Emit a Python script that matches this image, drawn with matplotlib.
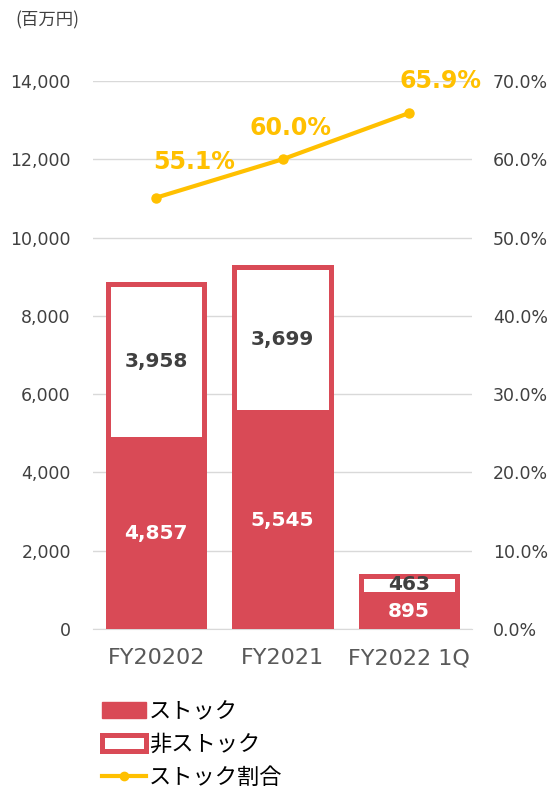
import numpy as np
import matplotlib.pyplot as plt
from matplotlib.patches import Patch
from matplotlib.lines import Line2D

plt.rcParams['font.family'] = ['DejaVu Sans', 'Noto Sans CJK JP']

categories = ["FY20202", "FY2021", "FY2022 1Q"]
stock = [4857, 5545, 895]
non_stock = [3958, 3699, 463]
stock_ratio = [55.1, 60.0, 65.9]

left_ticks = [0, 2000, 4000, 6000, 8000, 10000, 12000, 14000]
right_ticks = [0, 10, 20, 30, 40, 50, 60, 70]

red = "#D94A56"
gold = "#FFC000"
txt = "#404040"

fig = plt.figure(figsize=(5.55, 7.90), dpi=100)
ax = fig.add_axes([93/555, 1-629/790, (472-93)/555, (629-81)/790])

x = np.arange(len(categories))
w = 0.76
ax.bar(x, stock, width=w, color=red, edgecolor=red, linewidth=3.6, zorder=3)
ax.bar(x, non_stock, bottom=stock, width=w, color="white", edgecolor=red,
       linewidth=3.6, zorder=3)

for i in range(len(categories)):
    ax.text(x[i], stock[i] / 2, f"{stock[i]:,}", ha="center", va="center",
            color="white", fontsize=14.5, fontweight="bold", zorder=5)
    ax.text(x[i], stock[i] + non_stock[i] / 2, f"{non_stock[i]:,}", ha="center",
            va="center", color=txt, fontsize=14.5, fontweight="bold", zorder=5)

ax.set_xlim(-0.5, 2.5)
ax.set_ylim(0, 14000)
ax.set_yticks(left_ticks)
ax.set_yticklabels([f"{v:,}" for v in left_ticks])
ax.set_xticks(x)
ax.set_xticklabels(categories)
ax.tick_params(axis="y", length=0, labelsize=12.5, labelcolor=txt, pad=16)
ax.tick_params(axis="x", length=0, labelsize=16, labelcolor="#595959", pad=14)
ax.grid(axis="y", color="#D9D9D9", linewidth=1, zorder=0)
for s in ["top", "right", "left"]:
    ax.spines[s].set_visible(False)
ax.spines["bottom"].set_color("#D9D9D9")

ax2 = ax.twinx()
ax2.set_ylim(0, 70)
ax2.set_yticks(right_ticks)
ax2.set_yticklabels([f"{v:.1f}%" for v in right_ticks])
ax2.tick_params(axis="y", length=0, labelsize=12.5, labelcolor=txt, pad=15)
for s in ["top", "right", "left", "bottom"]:
    ax2.spines[s].set_visible(False)
ax2.plot(x, stock_ratio, color=gold, linewidth=3, marker="o", markersize=6.5, zorder=6)

offsets = [(38, 36), (8, 31), (32, 32)]
for i in range(len(categories)):
    ax2.annotate(f"{stock_ratio[i]:.1f}%", (x[i], stock_ratio[i]),
                 xytext=offsets[i], textcoords="offset pixels", ha="center",
                 va="center", color=gold, fontsize=17, fontweight="bold")

fig.text(15/555, 1-20/790, "(百万円)", fontsize=12.5, color=txt, va="center",
         family=["Noto Sans CJK JP", "DejaVu Sans"])

handles = [
    Patch(facecolor=red, edgecolor=red, linewidth=1),
    Patch(facecolor="white", edgecolor=red, linewidth=3.6),
    Line2D([0], [0], color=gold, linewidth=3, marker="o", markersize=6),
]
labels = ["ストック", "非ストック", "ストック割合"]
fig.legend(handles, labels, loc="upper left", bbox_to_anchor=(82/555, 1-680/790),
           frameon=False, handlelength=2.0, handleheight=0.7,
           handletextpad=0.1, labelspacing=0.45,
           prop={"family": ["Noto Sans CJK JP", "DejaVu Sans"], "size": 16})

fig.savefig("out.png", dpi=100)
